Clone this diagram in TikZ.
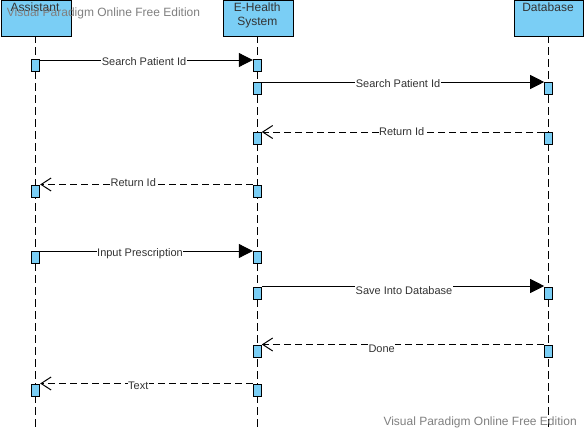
\documentclass[tikz,border=0pt]{standalone}
\usepackage{fontspec}
\setmainfont{Liberation Sans}
\usetikzlibrary{arrows.meta}
\definecolor{headfill}{RGB}{122,206,245}
\definecolor{txt}{RGB}{51,51,51}
\definecolor{wm}{RGB}{128,128,128}
\begin{document}
\begin{tikzpicture}[x=1pt,y=-1pt,
  headbox/.style={draw=black, line width=1pt, fill=headfill, inner sep=0pt, anchor=north west},
  headtxt/.style={anchor=base, inner sep=0pt, text=txt, font=\fontsize{12}{14}\selectfont},
  act/.style={draw=black, line width=1pt, fill=headfill, minimum width=8pt, minimum height=12pt, inner sep=0pt, anchor=north},
  life/.style={draw=black, line width=1pt, dash pattern=on 8pt off 4pt},
  msg/.style={draw=black, line width=1pt, -{Triangle[length=14pt,width=14pt]}},
  ret/.style={draw=black, line width=1pt, dash pattern=on 7pt off 4pt, -{Straight Barb[length=10pt,width=13pt,line width=1pt]}},
  lbl/.style={anchor=base, fill=white, inner xsep=0.5pt, inner ysep=1pt, text=txt, font=\fontsize{11}{13}\selectfont},
  wmark/.style={anchor=base west, inner sep=0pt, text=wm, font=\fontsize{12}{14}\selectfont}]
\useasboundingbox[fill=white] (0,0) rectangle (584,431);

% lifelines
\coordinate (endA) at (35.5,431);
\coordinate (endE) at (257.3,431);
\coordinate (endD) at (548.3,431);
\draw[life] (35.5,35) -- (endA);
\draw[life] (257.3,35) -- (endE);
\draw[life] (548.3,35) -- (endD);

% heads
\node[headbox, minimum width=70pt, minimum height=36pt] (hA) at (0.5,-0.5) {};
\node[headbox, minimum width=70pt, minimum height=36pt] (hE) at (222.5,-0.5) {};
\node[headbox, minimum width=69pt, minimum height=36pt] (hD) at (513.5,-0.5) {};
\node[headtxt] (tA) at (35,11) {Assistant};
\node[headtxt] (tE1) at (257.3,11) {E-Health};
\node[headtxt] (tE2) at (257.3,25) {System};
\node[headtxt] (tD) at (548,11) {Database};

% activations
\node[act] (a1) at (35.7,58.5) {};
\node[act] (e1) at (257.3,58.5) {};
\node[act] (e2) at (257.3,81.5) {};
\node[act] (d2) at (548.7,81.5) {};
\node[act] (e3) at (257.3,132) {};
\node[act] (d3) at (548.7,132) {};
\node[act] (a4) at (35.7,184.5) {};
\node[act] (e4) at (257.3,184.5) {};
\node[act] (a5) at (35.7,251) {};
\node[act] (e5) at (257.3,251) {};
\node[act] (e6) at (257.3,286.5) {};
\node[act] (d6) at (548.7,286.5) {};
\node[act] (e7) at (257.3,345) {};
\node[act] (d7) at (548.7,345) {};
\node[act] (a8) at (35.7,383.5) {};
\node[act] (e8) at (257.3,383.5) {};

% messages
\draw[msg] (a1.east |- 0,60) -- (e1.west |- 0,60);
\draw[msg] (e2.east |- 0,82) -- (d2.west |- 0,82);
\draw[ret] (d3.west |- 0,132) -- (e3.east |- 0,132);
\draw[ret] (e4.west |- 0,184.5) -- (a4.east |- 0,184.5);
\draw[msg] (a5.east |- 0,251) -- (e5.west |- 0,251);
\draw[msg] (e6.east |- 0,286) -- (d6.west |- 0,286);
\draw[ret] (d7.west |- 0,344.5) -- (e7.east |- 0,344.5);
\draw[ret] (e8.west |- 0,383.5) -- (a8.east |- 0,383.5);

% labels
\node[lbl] (l1) at (144,65.3) {Search Patient Id};
\node[lbl] (l2) at (398,87.3) {Search Patient Id};
\node[lbl] (l3) at (401.7,135) {Return Id};
\node[lbl] (l4) at (133.3,186.3) {Return Id};
\node[lbl] (l5) at (140,256) {Input Prescription};
\node[lbl] (l6) at (404,294) {Save Into Database};
\node[lbl] (l7) at (381.7,352.3) {Done};
\node[lbl] (l8) at (138.3,389) {Text};

% watermarks
\node[wmark] (w1) at (6.7,16.5) {Visual Paradigm Online Free Edition};
\node[wmark] (w2) at (383.3,425) {Visual Paradigm Online Free Edition};
\end{tikzpicture}
\end{document}
